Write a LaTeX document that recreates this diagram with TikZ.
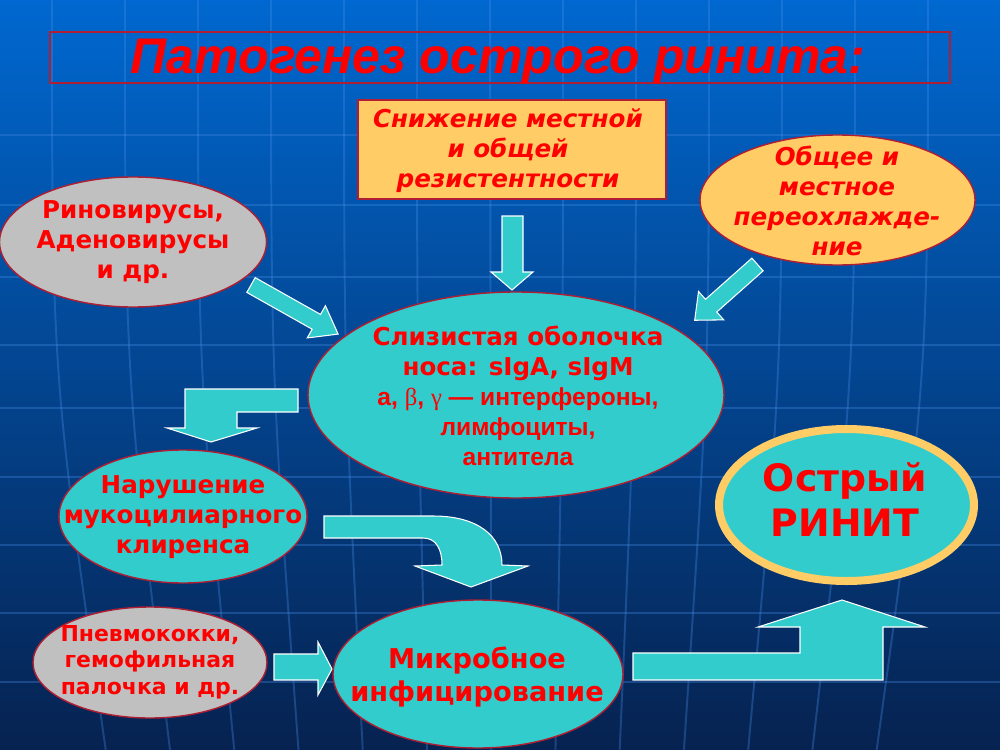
\documentclass[tikz,border=0pt]{standalone}
\usepackage{fontspec}
\usetikzlibrary{shapes.geometric}
\newfontfamily\dvfont{DejaVu Sans}
\newfontfamily\libfont{Liberation Sans}
\newfontfamily\libserif{Liberation Serif}
\definecolor{bgtop}{RGB}{0,104,208}
\definecolor{bgmid}{RGB}{10,66,150}
\definecolor{bgbot}{RGB}{6,34,80}
\definecolor{gridc}{RGB}{70,140,230}
\definecolor{cyanfill}{RGB}{51,204,204}
\definecolor{orangefill}{RGB}{255,204,102}
\definecolor{greyfill}{RGB}{192,192,192}
\definecolor{txtred}{RGB}{255,0,0}
\definecolor{edgered}{RGB}{175,30,50}
\definecolor{ringgold}{RGB}{255,204,102}
\newcommand\pxs{0.02cm}
\begin{document}
\begin{tikzpicture}[x=0.02cm,y=0.02cm,
  ell/.style={ellipse, draw=edgered, line width=0.8pt, inner sep=0pt},
  cyanell/.style={ell, fill=cyanfill},
  greyell/.style={ell, fill=greyfill},
  orangeell/.style={ell, fill=orangefill},
  txt/.style={text=txtred, align=center, inner sep=0pt, font=\dvfont\bfseries\fontsize{14}{17}\selectfont},
  itxt/.style={txt, font=\dvfont\bfseries\itshape\fontsize{14}{17}\selectfont},
  arr/.style={fill=cyanfill, draw=white, line width=0.6pt, line join=miter},
  gridline/.style={draw=gridc, line width=1.1pt, opacity=0.33}]
% background
\shade[top color=bgtop, middle color=bgmid, bottom color=bgbot] (0,0) rectangle (1000,-750);
\useasboundingbox (0,0) rectangle (1000,-750);
% grid
\foreach \yy in {135,205,277,345,408,477,545,613,682}
  \draw[gridline] (0,-\yy) -- (1000,-\yy);
\foreach \xx in {52,125,198,271,344,417,490,563,636,709,782,855,928}
  \draw[gridline] (\xx,0) .. controls (\xx,-375) .. ({\xx+(500-\xx)*0.12},-750);

% title
\node[draw=edgered, line width=0.8pt, minimum width={900*\pxs}, minimum height={51*\pxs}, inner sep=0pt] (titlebox) at (500,-57.5) {};
\node[text=txtred, inner sep=0pt, font=\libfont\bfseries\itshape\fontsize{28.5}{34}\selectfont] (title) at (498,-61) {Патогенез острого ринита:};

% shapes
\node[draw=edgered, line width=0.8pt, fill=orangefill, minimum width={308*\pxs}, minimum height={99*\pxs}, inner sep=0pt] (resist) at (512,-149.5) {};
\node[itxt] (resisttxt) at (508,-151) {Снижение местной\\и общей\\резистентности};

\node[orangeell, minimum width={275*\pxs}, minimum height={130*\pxs}] (cool) at (837.5,-200) {};
\node[itxt] (cooltxt) at (837,-201) {Общее и\\местное\\переохлажде-\\ние};

\node[greyell, minimum width={267*\pxs}, minimum height={130*\pxs}] (virus) at (133,-242) {};
\node[txt] (virustxt) at (133,-242) {Риновирусы,\\Аденовирусы\\и др.};

\node[cyanell, minimum width={416*\pxs}, minimum height={206*\pxs}] (mucosa) at (516,-395) {};
\node[txt] (mucosatxt) at (518,-396) {Слизистая оболочка\\носа: sIgA, sIgM\\{\libfont а, {\libserif\mdseries β}, {\libserif\mdseries γ} — интерфероны,}\\{\libfont лимфоциты,}\\{\libfont антитела}};

\node[cyanell, minimum width={248*\pxs}, minimum height={133*\pxs}] (mcc) at (183,-516.5) {};
\node[txt] (mcctxt) at (183,-517) {Нарушение\\мукоцилиарного\\клиренса};

\node[greyell, minimum width={234*\pxs}, minimum height={111*\pxs}] (pneumo) at (150,-662.5) {};
\node[txt, font=\dvfont\bfseries\fontsize{12.5}{15}\selectfont] (pneumotxt) at (150,-662) {Пневмококки,\\гемофильная\\палочка и др.};

\node[cyanell, minimum width={290*\pxs}, minimum height={148*\pxs}] (microb) at (478,-674) {};
\node[txt, font=\dvfont\bfseries\fontsize{15.5}{19}\selectfont] (microbtxt) at (477,-677) {Микробное\\инфицирование};

\node[ellipse, draw=ringgold, line width={8*\pxs}, fill=cyanfill, minimum width={255*\pxs}, minimum height={152*\pxs}, inner sep=0pt] (rhinitis) at (846.5,-505) {};
\node[txt, font=\dvfont\bfseries\fontsize{21.5}{25.6}\selectfont] (rhinitistxt) at (845,-500) {Острый\\РИНИТ};

% arrows
% resist -> mucosa
\draw[arr] (502,-216) -- (523,-216) -- (523,-272) -- (533,-272) -- (512,-290) -- (491,-272) -- (502,-272) -- cycle;
% virus -> mucosa
\begin{scope}[shift={(251,-285)}, rotate=-29.4]
\draw[arr] (0,-8.5) -- (75,-8.5) -- (75,-18.5) -- (100,0) -- (75,18.5) -- (75,8.5) -- (0,8.5) -- cycle;
\end{scope}
% cool -> mucosa
\begin{scope}[shift={(757.5,-264.5)}, rotate=221.6]
\draw[arr] (0,-8.5) -- (62,-8.5) -- (62,-19) -- (84,0) -- (62,19) -- (62,8.5) -- (0,8.5) -- cycle;
\end{scope}
% mucosa -> mcc (bent)
\draw[arr] (298,-389) -- (185,-389) -- (185,-428) -- (167,-428) -- (211,-442) -- (257,-428) -- (237,-428) -- (237,-412) -- (298,-412) -- cycle;
% mcc -> microb (curved)
\draw[arr] (324,-516) -- (433,-516) .. controls (478,-516) and (502,-536) .. (502,-565)
  -- (528,-566) -- (471,-587) -- (415,-566) -- (442,-565)
  .. controls (442,-549) and (436,-538) .. (423,-538) -- (324,-538) -- cycle;
% pneumo -> microb
\draw[arr] (274,-654) -- (318,-654) -- (318,-642) -- (332,-669) -- (318,-695) -- (318,-680) -- (274,-680) -- cycle;
% microb -> rhinitis (bent up)
\draw[arr] (633,-653) -- (800,-653) -- (800,-627) -- (758,-627) -- (842,-600) -- (925,-627) -- (883,-627) -- (883,-680) -- (633,-680) -- cycle;
\end{tikzpicture}
\end{document}
